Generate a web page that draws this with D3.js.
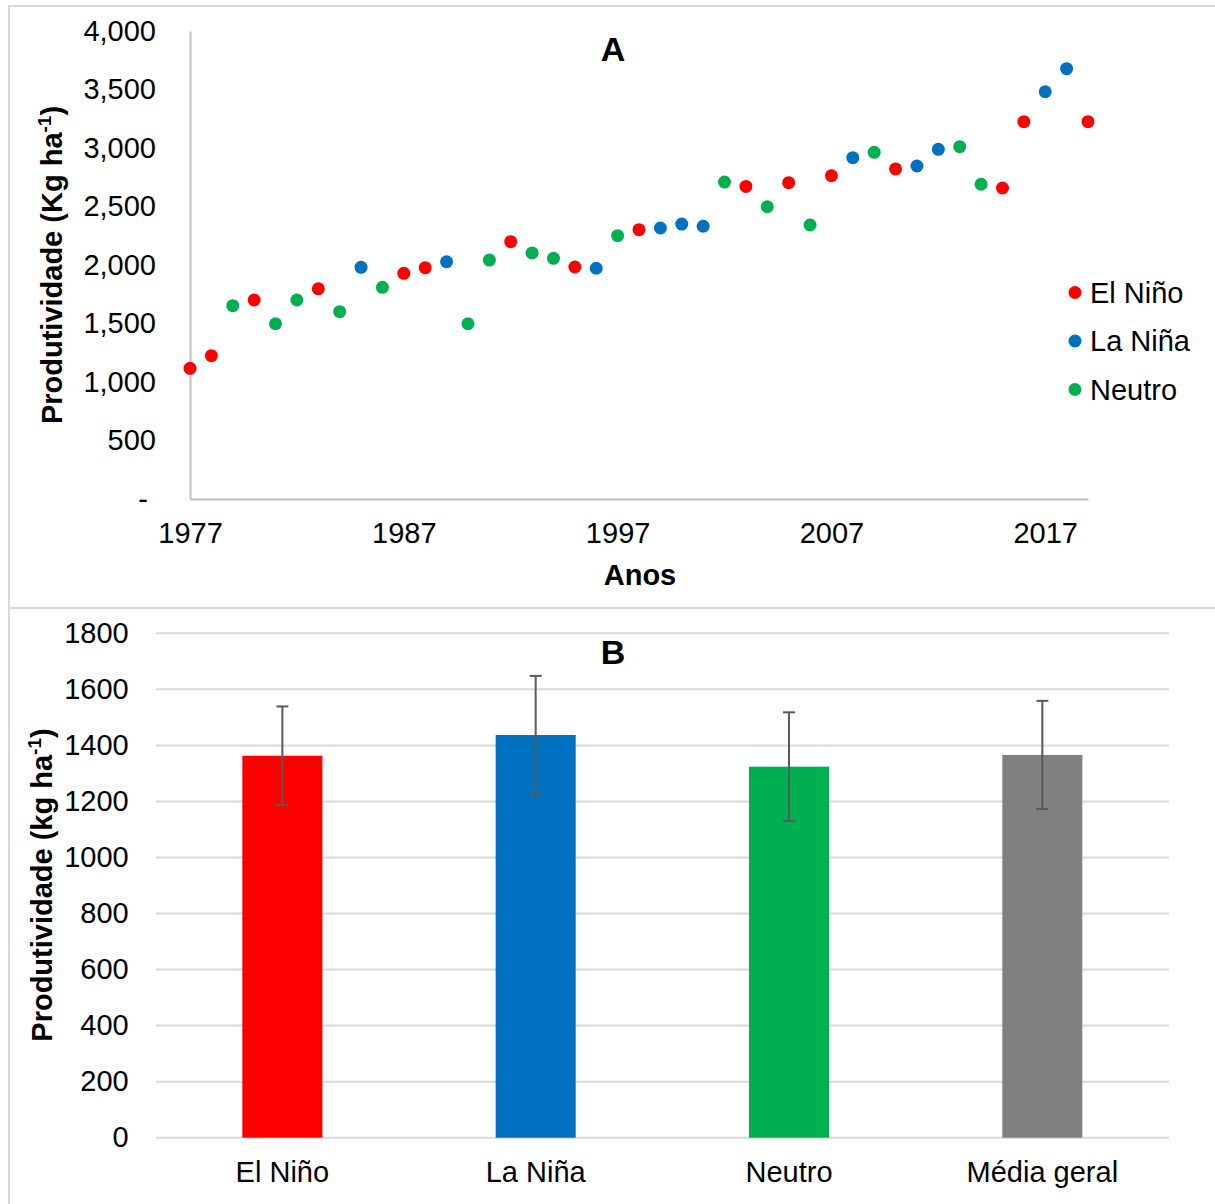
<!DOCTYPE html>
<html>
<head>
<meta charset="utf-8">
<script src="https://cdn.jsdelivr.net/npm/d3@7"></script>
<style>
  html, body { margin: 0; padding: 0; background: #fff; }
  svg { display: block; font-family: "Liberation Sans", Arial, sans-serif; }
</style>
</head>
<body>
<svg id="chart" width="1215" height="1204"></svg>
<script>
// ---- Panel A: yearly yield by ENSO phase ----
const years = d3.range(1977, 2020);
const yieldKg = [
  1117, 1225, 1652, 1701, 1498, 1701, 1797, 1601, 1980, 1809,
  1929, 1977, 2028, 1498, 2042, 2199, 2103, 2057, 1983, 1972,
  2251, 2302, 2316, 2350, 2331, 2709, 2672, 2498, 2704, 2342,
  2763, 2917, 2963, 2821, 2846, 2989, 3011, 2690, 2658, 3225,
  3481, 3678, 3225
];
const phase = [
  "El Niño", "El Niño", "Neutro", "El Niño", "Neutro", "Neutro", "El Niño", "Neutro", "La Niña", "Neutro",
  "El Niño", "El Niño", "La Niña", "Neutro", "Neutro", "El Niño", "Neutro", "Neutro", "El Niño", "La Niña",
  "Neutro", "El Niño", "La Niña", "La Niña", "La Niña", "Neutro", "El Niño", "Neutro", "El Niño", "Neutro",
  "El Niño", "La Niña", "Neutro", "El Niño", "La Niña", "La Niña", "Neutro", "Neutro", "El Niño", "El Niño",
  "La Niña", "La Niña", "El Niño"
];
const phases = ["El Niño", "La Niña", "Neutro"];
const phaseColors = ["#FF0000", "#0070C0", "#00B050"];
const yTicksA = [0, 500, 1000, 1500, 2000, 2500, 3000, 3500, 4000];
const xTicksA = [1977, 1987, 1997, 2007, 2017];

// ---- Panel B: mean yield by phase, with standard deviation ----
const categories = ["El Niño", "La Niña", "Neutro", "Média geral"];
const meanKg = [1363, 1437, 1324, 1366];
const sdKg = [176, 211, 194, 193];
const barColors = ["#FF0000", "#0070C0", "#00B050", "#808080"];
const yTicksB = [0, 200, 400, 600, 800, 1000, 1200, 1400, 1600, 1800];

const svg = d3.select("#chart");
const FONT = 29;
const border = "#d9d9d9";

// panel frames
svg.append("rect").attr("x", 9).attr("y", 6).attr("width", 1220).attr("height", 602)
  .attr("fill", "none").attr("stroke", border).attr("stroke-width", 2);
svg.append("rect").attr("x", 9).attr("y", 608).attr("width", 1220).attr("height", 610)
  .attr("fill", "none").attr("stroke", border).attr("stroke-width", 2);

// ===== Panel A =====
const xA = d3.scaleLinear().domain([1977, 2019]).range([190, 1088]);
const yA = d3.scaleLinear().domain([0, 4000]).range([499, 31]);
const gA = svg.append("g");

const yAxisA = d3.axisLeft(yA).tickValues(yTicksA).tickSize(0).tickPadding(34)
  .tickFormat(d => d === 0 ? "-" : d3.format(",")(d));
const gyA = gA.append("g").attr("transform", `translate(${xA.range()[0]},0)`).call(yAxisA);
gyA.select(".domain").attr("stroke", "#bfbfbf").attr("stroke-width", 2);
gyA.selectAll("text").attr("font-size", FONT).attr("fill", "#000")
  .attr("font-family", "Liberation Sans, Arial, sans-serif")
  .attr("dx", d => d === 0 ? -8 : 0);

const xAxisA = d3.axisBottom(xA).tickValues(xTicksA).tickSize(0).tickPadding(23)
  .tickFormat(d3.format("d"));
const gxA = gA.append("g").attr("transform", `translate(0,${yA(0)})`).call(xAxisA);
gxA.select(".domain").attr("stroke", "#bfbfbf").attr("stroke-width", 2);
gxA.selectAll("text").attr("font-size", FONT).attr("fill", "#000")
  .attr("font-family", "Liberation Sans, Arial, sans-serif");

const colorA = d3.scaleOrdinal().domain(phases).range(phaseColors);
gA.append("g").selectAll("circle")
  .data(years.map((y, i) => ({ year: y, v: yieldKg[i], p: phase[i] })))
  .join("circle")
  .attr("cx", d => xA(d.year))
  .attr("cy", d => yA(d.v))
  .attr("r", 6.5)
  .attr("fill", d => colorA(d.p));

gA.append("text").attr("x", 613).attr("y", 61).attr("text-anchor", "middle")
  .attr("font-size", 34).attr("font-weight", "bold").text("A");
gA.append("text").attr("x", 640).attr("y", 585).attr("text-anchor", "middle")
  .attr("font-size", FONT).attr("font-weight", "bold").text("Anos");

const yTitleA = gA.append("text")
  .attr("transform", "translate(62,265) rotate(-90)")
  .attr("text-anchor", "middle").attr("font-size", FONT).attr("font-weight", "bold");
yTitleA.append("tspan").text("Produtividade (Kg ha");
yTitleA.append("tspan").attr("font-size", 19).attr("dy", -11).text("-1");
yTitleA.append("tspan").attr("dy", 11).text(")");

// legend
const leg = gA.append("g").selectAll("g").data(phases).join("g")
  .attr("transform", (d, i) => `translate(1075,${292.5 + i * 48.5})`);
leg.append("circle").attr("r", 6.5).attr("fill", d => colorA(d));
leg.append("text").attr("x", 15).attr("y", 10).attr("font-size", FONT).text(d => d);

// ===== Panel B =====
const xB = d3.scaleBand().domain(categories).range([155.7, 1169]).paddingInner(0.684).paddingOuter(0.342);
const yB = d3.scaleLinear().domain([0, 1800]).range([1137.7, 633.3]);
const gB = svg.append("g");

gB.append("g").selectAll("line").data(yTicksB).join("line")
  .attr("x1", 155.7).attr("x2", 1169)
  .attr("y1", d => yB(d)).attr("y2", d => yB(d))
  .attr("stroke", "#d9d9d9").attr("stroke-width", 2);

const yAxisB = d3.axisLeft(yB).tickValues(yTicksB).tickSize(0).tickPadding(27).tickFormat(d3.format("d"));
const gyB = gB.append("g").attr("transform", "translate(155.7,0)").call(yAxisB);
gyB.select(".domain").remove();
gyB.selectAll("text").attr("font-size", FONT).attr("fill", "#000")
  .attr("font-family", "Liberation Sans, Arial, sans-serif");

gB.append("g").selectAll("rect").data(categories).join("rect")
  .attr("x", d => xB(d))
  .attr("width", xB.bandwidth())
  .attr("y", (d, i) => yB(meanKg[i]))
  .attr("height", (d, i) => yB(0) - yB(meanKg[i]))
  .attr("fill", (d, i) => barColors[i]);

// error bars
const eb = gB.append("g").selectAll("g").data(categories).join("g")
  .attr("transform", d => `translate(${xB(d) + xB.bandwidth() / 2},0)`);
eb.append("line")
  .attr("y1", (d, i) => yB(meanKg[i] + sdKg[i]))
  .attr("y2", (d, i) => yB(meanKg[i] - sdKg[i]))
  .attr("stroke", "#595959").attr("stroke-width", 2);
eb.append("line").attr("x1", -6).attr("x2", 6)
  .attr("y1", (d, i) => yB(meanKg[i] + sdKg[i])).attr("y2", (d, i) => yB(meanKg[i] + sdKg[i]))
  .attr("stroke", "#595959").attr("stroke-width", 2);
eb.append("line").attr("x1", -6).attr("x2", 6)
  .attr("y1", (d, i) => yB(meanKg[i] - sdKg[i])).attr("y2", (d, i) => yB(meanKg[i] - sdKg[i]))
  .attr("stroke", "#595959").attr("stroke-width", 2);

// category labels
gB.append("g").selectAll("text").data(categories).join("text")
  .attr("x", d => xB(d) + xB.bandwidth() / 2)
  .attr("y", 1182).attr("text-anchor", "middle").attr("font-size", FONT)
  .text(d => d);

gB.append("text").attr("x", 613).attr("y", 664).attr("text-anchor", "middle")
  .attr("font-size", 34).attr("font-weight", "bold").text("B");

const yTitleB = gB.append("text")
  .attr("transform", "translate(52,885) rotate(-90)")
  .attr("text-anchor", "middle").attr("font-size", FONT).attr("font-weight", "bold");
yTitleB.append("tspan").text("Produtividade (kg ha");
yTitleB.append("tspan").attr("font-size", 19).attr("dy", -11).text("-1");
yTitleB.append("tspan").attr("dy", 11).text(")");
</script>
</body>
</html>
